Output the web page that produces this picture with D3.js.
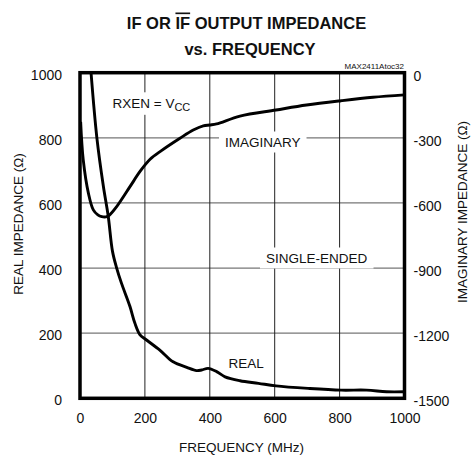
<!DOCTYPE html>
<html>
<head>
<meta charset="utf-8">
<script src="https://cdn.jsdelivr.net/npm/d3@7"></script>
<style>
  html, body { margin: 0; padding: 0; background: #fff; }
  svg { display: block; font-family: "Liberation Sans", Arial, Helvetica, sans-serif; }
</style>
</head>
<body>
<svg id="chart" width="473" height="456"></svg>
<script>
// ---- data ----
const freqTicks = [0, 200, 400, 600, 800, 1000];
const realTicks = [0, 200, 400, 600, 800, 1000];
const imagTicks = [0, -300, -600, -900, -1200, -1500];

const realFreq = [34, 52, 72, 87, 100, 113, 128, 154, 169, 185, 205, 246, 287, 329, 359, 375, 395, 421, 447, 493, 550, 604, 708, 805, 883, 945, 1000];
const realVal  = [1000, 800, 651, 559, 452, 400, 353, 282, 231, 195, 179, 148, 112, 95, 85, 87, 92, 82, 66, 54, 46, 38, 30, 25, 25, 20, 20];

const imagFreq = [2, 10, 26, 41, 55, 67, 80, 90, 113, 154, 185, 216, 250, 308, 349, 380, 400, 421, 493, 604, 698, 805, 903, 1000];
const imagVal  = [-226, -402, -556, -632, -655, -663, -664, -657, -617, -525, -455, -399, -360, -302, -264, -245, -241, -236, -200, -172, -149, -129, -113, -102];

// ---- layout ----
const svg = d3.select("#chart");
const L = 80, R = 404.5, T = 72.7, B = 398.3;

const x = d3.scaleLinear().domain([0, 1000]).range([L, R]);
const yL = d3.scaleLinear().domain([0, 1000]).range([B, T]);
const yR = d3.scaleLinear().domain([-1500, 0]).range([B, T]);

// gridlines
const grid = svg.append("g");
grid.selectAll("line.h").data(realTicks.slice(1, -1)).join("line")
  .attr("x1", L).attr("x2", R)
  .attr("y1", d => yL(d)).attr("y2", d => yL(d))
  .attr("stroke", "#777").attr("stroke-width", 1.2);
grid.selectAll("line.v").data(freqTicks.slice(1, -1)).join("line")
  .attr("x1", d => x(d)).attr("x2", d => x(d))
  .attr("y1", T).attr("y2", B)
  .attr("stroke", "#222").attr("stroke-width", 1);

// annotation labels with white knock-out boxes
function label(txt, xv, yv, size) {
  const g = svg.append("g");
  const rect = g.append("rect").attr("fill", "#fff");
  const t = g.append("text").attr("x", xv).attr("y", yv)
    .attr("font-size", size).attr("fill", "#111").text(txt);
  const bb = t.node().getBBox();
  rect.attr("x", bb.x - 6).attr("y", bb.y - 3).attr("width", bb.width + 12).attr("height", bb.height + 6);
  return t;
}

// curves
const line = d3.line().curve(d3.curveCatmullRom.alpha(0.5));
const realPts = realFreq.map((f, i) => [x(f), yL(realVal[i])]);
const imagPts = imagFreq.map((f, i) => [x(f), yR(imagVal[i])]);

// RXEN label
{
  const g = svg.append("g");
  const rect = g.append("rect").attr("fill", "#fff");
  const t = g.append("text").attr("x", 112.5).attr("y", 108.3).attr("font-size", 13.5).attr("fill", "#111");
  t.append("tspan").text("RXEN = V");
  t.append("tspan").attr("font-size", 11).attr("dy", 2.5).text("CC");
  const bb = t.node().getBBox();
  rect.attr("x", bb.x - 4).attr("y", bb.y - 4).attr("width", bb.width + 8).attr("height", bb.height + 6);
}
label("IMAGINARY", 225, 146.5, 13.5);
label("SINGLE-ENDED", 266, 262.5, 13.5);
label("REAL", 228.5, 368.3, 13.5);

svg.append("path").attr("d", line(realPts)).attr("fill", "none")
  .attr("stroke", "#000").attr("stroke-width", 2.9).attr("stroke-linejoin", "round");
svg.append("path").attr("d", line(imagPts)).attr("fill", "none")
  .attr("stroke", "#000").attr("stroke-width", 2.9).attr("stroke-linejoin", "round");

// frame
svg.append("rect").attr("x", L).attr("y", T).attr("width", R - L).attr("height", B - T)
  .attr("fill", "none").attr("stroke", "#000").attr("stroke-width", 3.5);

// axes (labels only, no tick marks)
const fmt = d3.format("d");
const axL = d3.axisLeft(yL).tickValues(realTicks).tickFormat(fmt).tickSize(0).tickPadding(18);
const axR = d3.axisRight(yR).tickValues(imagTicks).tickSize(0).tickPadding(9)
  .tickFormat(d => d === 0 ? "0" : "-" + Math.abs(d));
const axB = d3.axisBottom(x).tickValues(freqTicks).tickFormat(fmt).tickSize(0).tickPadding(15);

function styleAxis(g) {
  g.select(".domain").remove();
  g.selectAll("text").attr("font-size", 14).attr("fill", "#111")
    .attr("font-family", "'Liberation Sans', Arial, sans-serif");
}
svg.append("g").attr("transform", `translate(${L},2)`).call(axL).call(styleAxis);
svg.append("g").attr("transform", `translate(${R},3)`).call(axR).call(styleAxis);
svg.append("g").attr("transform", `translate(0,${B})`).call(axB).call(styleAxis);

// axis titles
svg.append("text").attr("transform", "translate(23,224) rotate(-90)")
  .attr("text-anchor", "middle").attr("font-size", 13.5).attr("fill", "#111")
  .text("REAL IMPEDANCE (\u03A9)");
svg.append("text").attr("transform", "translate(467,212) rotate(-90)")
  .attr("text-anchor", "middle").attr("font-size", 13.5).attr("fill", "#111")
  .text("IMAGINARY IMPEDANCE (\u03A9)");
svg.append("text").attr("x", 241.5).attr("y", 452)
  .attr("text-anchor", "middle").attr("font-size", 13.5).attr("fill", "#111")
  .text("FREQUENCY (MHz)");

// title
const t1 = svg.append("text").attr("x", 246.5).attr("y", 28.5)
  .attr("text-anchor", "middle").attr("font-size", 16.5).attr("font-weight", "bold").attr("fill", "#111");
t1.append("tspan").text("IF OR ");
t1.append("tspan").style("text-decoration", "overline").text("IF");
t1.append("tspan").text(" OUTPUT IMPEDANCE");
svg.append("text").attr("x", 250).attr("y", 55)
  .attr("text-anchor", "middle").attr("font-size", 16.5).attr("font-weight", "bold").attr("fill", "#111")
  .text("vs. FREQUENCY");
svg.append("text").attr("x", 404).attr("y", 68.5)
  .attr("text-anchor", "end").attr("font-size", 8).attr("fill", "#111")
  .text("MAX2411Atoc32");
</script>
</body>
</html>
